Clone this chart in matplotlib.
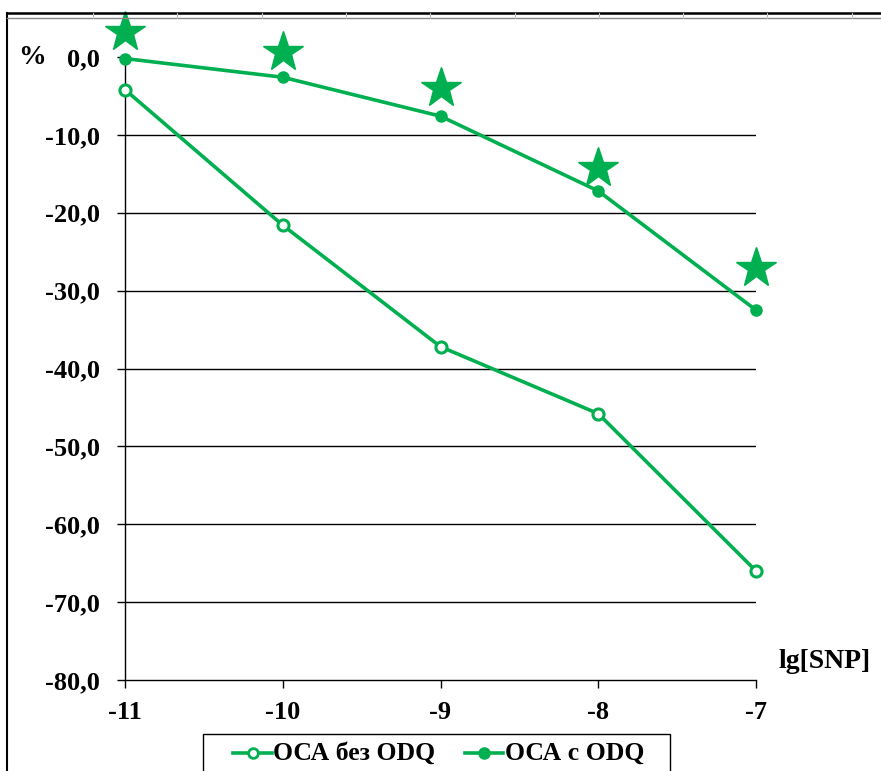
import matplotlib
matplotlib.use("Agg")
import matplotlib.pyplot as plt
from matplotlib.lines import Line2D
from matplotlib.patches import Rectangle
import numpy as np

plt.rcParams['font.family'] = ['Liberation Serif', 'DejaVu Serif']
plt.rcParams['font.weight'] = 'bold'

x_vals = [-11, -10, -9, -8, -7]
oca_without_odq = [-4.2, -21.6, -37.2, -45.8, -66.0]
oca_with_odq = [-0.2, -2.6, -7.6, -17.2, -32.5]
star_positions = [3.2, 0.6, -4.0, -14.2, -27.1]
y_ticks = [0, -10, -20, -30, -40, -50, -60, -70, -80]
y_ticklabels = ['0,0', '-10,0', '-20,0', '-30,0', '-40,0', '-50,0', '-60,0', '-70,0', '-80,0']
x_ticklabels = ['-11', '-10', '-9', '-8', '-7']
series_labels = ['ОСА без ODQ', 'ОСА с ODQ']

GREEN = '#00B050'
W, H = 881, 771
fig = plt.figure(figsize=(W/100, H/100), dpi=100)

ax = fig.add_axes([125/W, 1-680/H, (756-125)/W, (680-57)/H])
ax.set_xlim(-11, -7)
ax.set_ylim(-80, 0)

for yv in y_ticks[1:-1]:
    ax.axhline(yv, color='black', lw=1.0, zorder=1)

ax.plot(x_vals, oca_without_odq, color=GREEN, lw=2.6, marker='o', ms=8,
        mfc='white', mec=GREEN, mew=2.2, clip_on=False, zorder=3)
ax.plot(x_vals, oca_with_odq, color=GREEN, lw=2.6, marker='o', ms=8,
        mfc=GREEN, mec=GREEN, clip_on=False, zorder=3)
ax.plot(x_vals, star_positions, ls='none', marker='*', ms=30, color=GREEN,
        mec=GREEN, clip_on=False, zorder=4)

for s in ['top', 'right']:
    ax.spines[s].set_visible(False)
ax.spines['left'].set_linewidth(1.0)
ax.spines['bottom'].set_linewidth(1.0)
ax.set_yticks(y_ticks)
ax.set_yticklabels(y_ticklabels, fontsize=19, fontweight='bold')
ax.set_xticks(x_vals)
ax.set_xticklabels(x_ticklabels, fontsize=19, fontweight='bold')
ax.tick_params(axis='both', direction='out', length=6, width=1.0)
ax.tick_params(axis='y', pad=12)
ax.tick_params(axis='x', pad=9)

fig.text(18/W, 1-57/H, '%', fontsize=20, fontweight='bold', ha='left', va='center')
fig.text(871/W, 1-661/H, 'lg[SNP]', fontsize=20, fontweight='bold', ha='right', va='center')

# outer frame
fig.add_artist(Line2D([7/W, 7/W], [0, 1-13/H], color='black', lw=1.5, transform=fig.transFigure))
fig.add_artist(Line2D([7/W, 1], [1-13/H, 1-13/H], color='black', lw=1.8, transform=fig.transFigure))
fig.add_artist(Line2D([7/W, 1], [1-17.5/H, 1-17.5/H], color='#888888', lw=1.0, transform=fig.transFigure))
for xt in np.arange(93, W, 84.3):
    fig.add_artist(Line2D([xt/W, xt/W], [1-17.5/H, 1-13/H], color='#bbbbbb', lw=0.8, transform=fig.transFigure))

# legend (drawn manually, box cut by figure bottom)
fig.add_artist(Rectangle((203/W, -0.02), (670-203)/W, 1-734/H+0.02, transform=fig.transFigure,
                         facecolor='white', edgecolor='black', lw=1.0))
legend_items = [
    (233, 272, 273, 'white'),
    (465, 503, 505, GREEN),
]
ly = 1-753/H
for (x0, x1, xt, fc), lab in zip(legend_items, series_labels):
    fig.add_artist(Line2D([x0/W, x1/W], [ly, ly], color=GREEN, lw=2.6, transform=fig.transFigure))
    fig.add_artist(Line2D([(x0+x1)/2/W], [ly], color=GREEN, marker='o', ms=7, mfc=fc, mec=GREEN,
                          mew=2, transform=fig.transFigure))
    fig.text(xt/W, ly, lab, fontsize=18.5, fontweight='bold', ha='left', va='center')

fig.savefig('out.png', dpi=100)
